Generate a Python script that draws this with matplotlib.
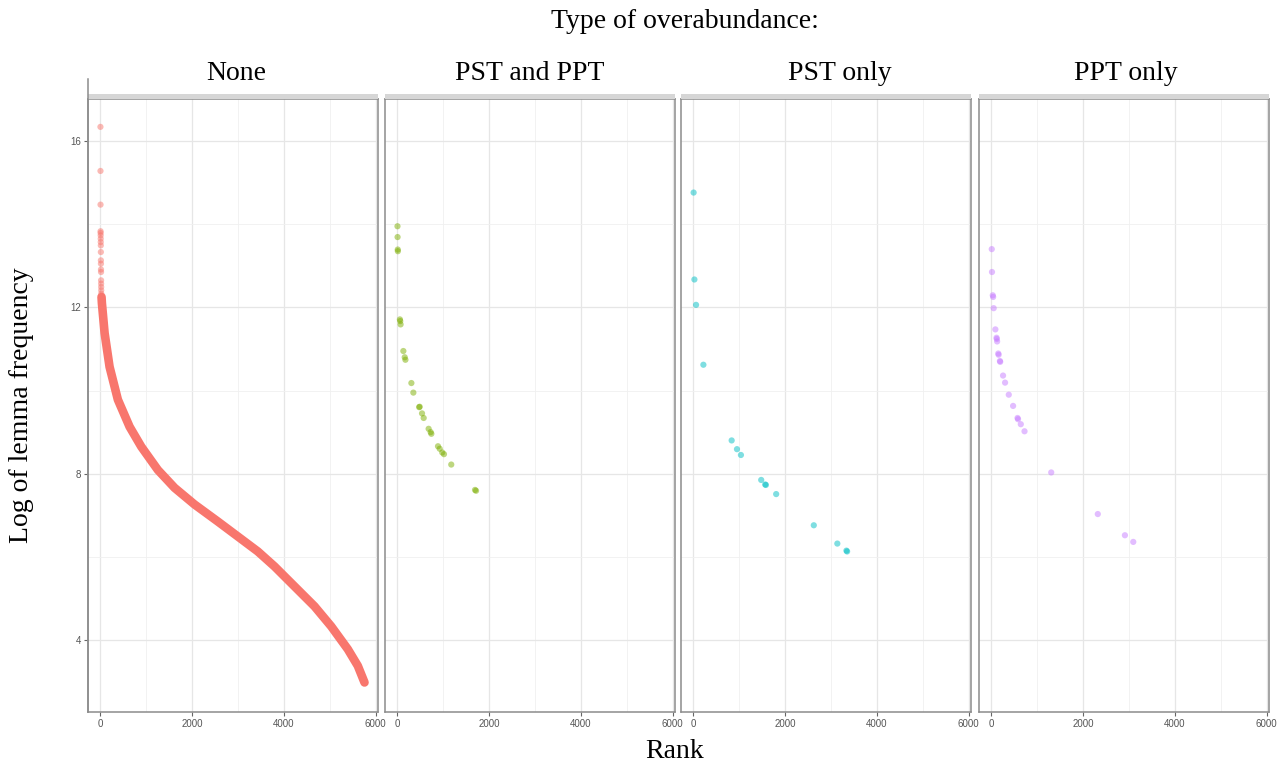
import numpy as np
import matplotlib.pyplot as plt
from matplotlib.patches import Rectangle
from matplotlib.lines import Line2D

# ---- data (rank, log lemma frequency) ----
panel_names = ["None", "PST and PPT", "PST only", "PPT only"]
panel_colors = ["#F8766D", "#7CAE00", "#00BFC4", "#C77CFF"]

# "None": a few isolated very frequent lemmas at the top ...
none_top_rank = [1, 2, 3, 4, 5, 6, 7, 8, 9, 10, 11, 12, 13, 14, 15, 16, 17, 18, 19]
none_top_logf = [16.34, 15.28, 14.47, 13.83, 13.79, 13.73, 13.65, 13.57, 13.49, 13.33,
                 13.13, 13.05, 12.91, 12.85, 12.65, 12.57, 12.49, 12.41, 12.33]
# ... then the dense band of ~5700 lemmas
none_rank = [25, 33, 92, 200, 381, 636, 891, 1253, 1617, 2052, 2560, 2996, 3431, 3795,
             4231, 4667, 5030, 5392, 5610, 5756]
none_logf = [12.25, 12.10, 11.38, 10.57, 9.78, 9.13, 8.65, 8.09, 7.66, 7.26, 6.85, 6.49,
             6.13, 5.77, 5.29, 4.81, 4.33, 3.78, 3.38, 2.98]

both_rank = [2, 4, 8, 10, 55, 62, 70, 130, 160, 175, 305, 348, 475, 485, 537, 573,
             681, 725, 740, 885, 922, 978, 1015, 1174, 1692, 1714]
both_logf = [13.95, 13.69, 13.39, 13.35, 11.71, 11.67, 11.59, 10.95, 10.80, 10.74,
             10.18, 9.95, 9.60, 9.61, 9.45, 9.34, 9.08, 9.00, 8.96, 8.66, 8.60, 8.51,
             8.47, 8.22, 7.61, 7.59]

pst_rank = [5, 22, 58, 218, 834, 950, 1036, 1478, 1565, 1580, 1804, 2624, 3137, 3335, 3350]
pst_logf = [14.76, 12.67, 12.06, 10.62, 8.80, 8.59, 8.45, 7.85, 7.74, 7.73, 7.51, 6.76,
            6.32, 6.15, 6.13]

ppt_rank = [8, 13, 30, 38, 50, 87, 112, 118, 125, 150, 158, 186, 192, 254, 298, 379,
            473, 570, 580, 641, 722, 1304, 2319, 2910, 3092]
ppt_logf = [13.40, 12.85, 12.29, 12.25, 11.98, 11.47, 11.27, 11.24, 11.18, 10.89, 10.86,
            10.71, 10.69, 10.36, 10.19, 9.90, 9.63, 9.34, 9.31, 9.19, 9.02, 8.03, 7.03,
            6.52, 6.36]

series = [(none_top_rank + none_rank, none_top_logf + none_logf),
          (both_rank, both_logf),
          (pst_rank, pst_logf),
          (ppt_rank, ppt_logf)]

# ---- layout in pixels ----
W, H = 1287, 770
fig = plt.figure(figsize=(W / 100, H / 100), dpi=100)


def fx(px):
    return px / W


def fy(py):
    return 1 - py / H


panel_left = [88, 385, 681, 979]
panel_w = 290
top, bottom = 99, 712
label_x = [236, 530, 840, 1126]

serif = "Liberation Serif"
sans = "Liberation Sans"

for i, left in enumerate(panel_left):
    ax = fig.add_axes([fx(left), fy(bottom), panel_w / W, (bottom - top) / H])
    ax.set_xlim(-270, 6050)
    ax.set_ylim(2.27, 17.01)
    ax.set_xticks([0, 2000, 4000, 6000])
    ax.set_xticks([1000, 3000, 5000], minor=True)
    ax.set_yticks([4, 8, 12, 16])
    ax.set_yticks([6, 10, 14], minor=True)
    ax.grid(which="major", color="#e6e6e6", lw=0.9)
    ax.grid(which="minor", color="#f0f0f0", lw=0.6)
    ax.set_axisbelow(True)
    ax.tick_params(which="minor", length=0)
    ax.tick_params(which="major", length=3, width=0.8, color="#666666",
                   labelsize=7, labelcolor="#555555", pad=2)
    for lab in ax.get_xticklabels() + ax.get_yticklabels():
        lab.set_family(sans)
    if i > 0:
        ax.tick_params(axis="y", left=False, labelleft=False)
    for sp in ax.spines.values():
        sp.set_color("#8c8c8c")
        sp.set_linewidth(1.1)

    x, y = series[i]
    c = panel_colors[i]
    if i == 0:
        ax.plot(none_rank, none_logf, color=c, lw=6.2, solid_capstyle="round",
                solid_joinstyle="round", zorder=2)
    ax.scatter(x, y, s=20, color=c, alpha=0.5, edgecolors="none", zorder=3)

    # thin grey strip band on top of each panel
    fig.add_artist(Rectangle((fx(left), fy(top)), panel_w / W, 5 / H,
                             transform=fig.transFigure, facecolor="#d6d6d6",
                             edgecolor="none"))
    fig.text(fx(label_x[i]), fy(73), panel_names[i], ha="center", va="center",
             fontsize=20, family=serif)

# left axis line reaching above the strip
fig.add_artist(Line2D([fx(88), fx(88)], [fy(79), fy(712)], color="#8c8c8c", lw=1.1,
                      transform=fig.transFigure))

fig.text(fx(685), fy(22), "Type of overabundance:", ha="center", va="center",
         fontsize=20, family=serif)
fig.text(fx(675), fy(752), "Rank", ha="center", va="center", fontsize=20, family=serif)
fig.text(fx(22), fy(405), "Log of lemma frequency", ha="center", va="center",
         rotation=90, fontsize=20, family=serif)

fig.savefig("out.png", dpi=100, facecolor="white")
